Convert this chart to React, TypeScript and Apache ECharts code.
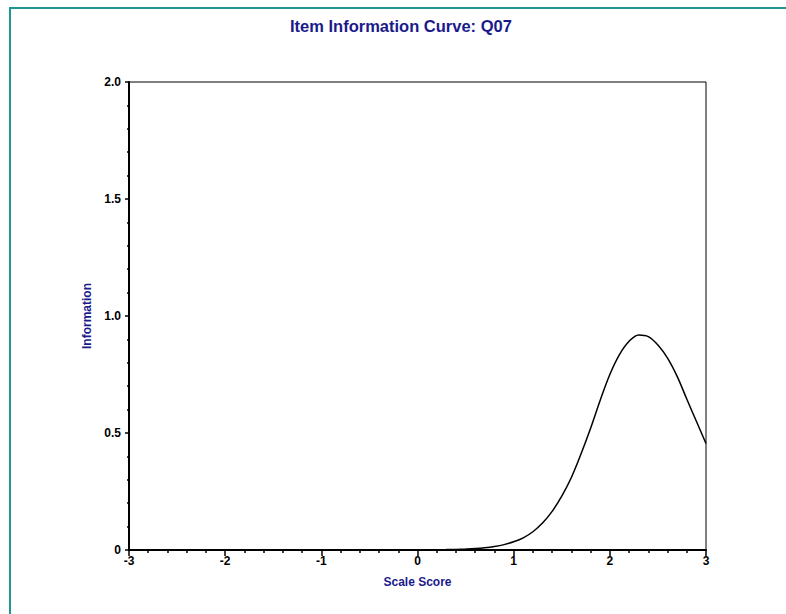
import React, { useEffect, useRef } from "react";
import * as echarts from "echarts";

const chartTitle = "Item Information Curve: Q07";
const xAxisName = "Scale Score";
const yAxisName = "Information";

const theta = [
  -3.0, -2.9, -2.8, -2.7, -2.6, -2.5, -2.4, -2.3, -2.2, -2.1,
  -2.0, -1.9, -1.8, -1.7, -1.6, -1.5, -1.4, -1.3, -1.2, -1.1,
  -1.0, -0.9, -0.8, -0.7, -0.6, -0.5, -0.4, -0.3, -0.2, -0.1,
  0.0, 0.1, 0.2, 0.3, 0.4, 0.5, 0.6, 0.7, 0.8, 0.9,
  1.0, 1.1, 1.2, 1.3, 1.4, 1.5, 1.6, 1.7, 1.8, 1.9,
  2.0, 2.1, 2.2, 2.3, 2.4, 2.5, 2.6, 2.7, 2.8, 2.9,
  3.0,
];

const information = [
  0, 0, 0, 0, 0, 0, 0, 0, 0, 0,
  0, 0, 0, 0, 0, 0, 0, 0, 0, 0,
  0, 0, 0, 0, 0, 0, 0, 0, 0.0001, 0.0002,
  0.0004, 0.0007, 0.0011, 0.0017, 0.0026, 0.004, 0.006, 0.0095, 0.015, 0.023,
  0.035, 0.052, 0.078, 0.115, 0.165, 0.23, 0.31, 0.41, 0.52, 0.64,
  0.75, 0.835, 0.892, 0.919, 0.912, 0.876, 0.82, 0.742, 0.645, 0.55,
  0.455,
];

const xTicks = [-3, -2, -1, 0, 1, 2, 3];
const yTicks = [0, 0.5, 1.0, 1.5, 2.0];

export default function App() {
  const ref = useRef<HTMLDivElement>(null);

  useEffect(() => {
    if (!ref.current) return;
    const chart = echarts.init(ref.current, undefined, { renderer: "svg" });
    const navy = "#1a1a8c";
    const font = "Liberation Sans, Arial, sans-serif";
    chart.setOption({
      animation: false,
      backgroundColor: "#ffffff",
      title: {
        text: chartTitle,
        left: 285,
        top: 12,
        textStyle: {
          fontFamily: font,
          fontSize: 16.5,
          fontWeight: "bold",
          color: navy,
        },
      },
      graphic: [
        {
          type: "rect",
          shape: { x: 10, y: 8, width: 800, height: 640 },
          style: { fill: "none", stroke: "#1f9690", lineWidth: 2 },
          silent: true,
        },
      ],
      grid: {
        left: 129,
        right: 80,
        top: 82,
        bottom: 64,
        show: true,
        borderColor: "#000",
        borderWidth: 1,
        backgroundColor: "transparent",
      },
      xAxis: {
        type: "value",
        min: -3,
        max: 3,
        interval: 1,
        name: xAxisName,
        nameLocation: "middle",
        nameGap: 26,
        nameTextStyle: {
          fontFamily: font,
          fontSize: 12,
          fontWeight: "bold",
          color: navy,
        },
        axisLine: { show: true, onZero: false, lineStyle: { color: "#000", width: 2 } },
        axisTick: { show: true, inside: false, length: 6, lineStyle: { color: "#000", width: 1.5 } },
        minorTick: { show: true, splitNumber: 5, length: 3, lineStyle: { color: "#000", width: 1.5 } },
        splitLine: { show: false },
        axisLabel: {
          margin: 5,
          fontFamily: font,
          fontSize: 12,
          fontWeight: "bold",
          color: "#000",
          formatter: (v: number) => (xTicks.includes(Math.round(v)) ? String(Math.round(v)) : ""),
        },
      },
      yAxis: {
        type: "value",
        min: 0,
        max: 2,
        interval: 0.5,
        name: yAxisName,
        nameLocation: "middle",
        nameGap: 36,
        nameRotate: 90,
        nameTextStyle: {
          fontFamily: font,
          fontSize: 12,
          fontWeight: "bold",
          color: navy,
        },
        axisLine: { show: true, onZero: false, lineStyle: { color: "#000", width: 2 } },
        axisTick: { show: true, inside: false, length: 4, lineStyle: { color: "#000", width: 1.5 } },
        minorTick: { show: true, splitNumber: 5, length: 2, lineStyle: { color: "#000", width: 1.5 } },
        splitLine: { show: false },
        axisLabel: {
          margin: 8,
          fontFamily: font,
          fontSize: 12,
          fontWeight: "bold",
          color: "#000",
          formatter: (v: number) => {
            const t = yTicks.find((y) => Math.abs(y - v) < 1e-6);
            if (t === undefined) return "";
            return t === 0 ? "0" : t.toFixed(1);
          },
        },
      },
      series: [
        {
          type: "line",
          data: theta.map((t, i) => [t, information[i]]),
          smooth: 0.35,
          showSymbol: false,
          lineStyle: { color: "#000", width: 1.5 },
          clip: true,
        },
      ],
    });
    return () => chart.dispose();
  }, []);

  return (
    <div
      ref={ref}
      style={{ position: "fixed", left: 0, top: 0, width: 786, height: 614 }}
    />
  );
}
